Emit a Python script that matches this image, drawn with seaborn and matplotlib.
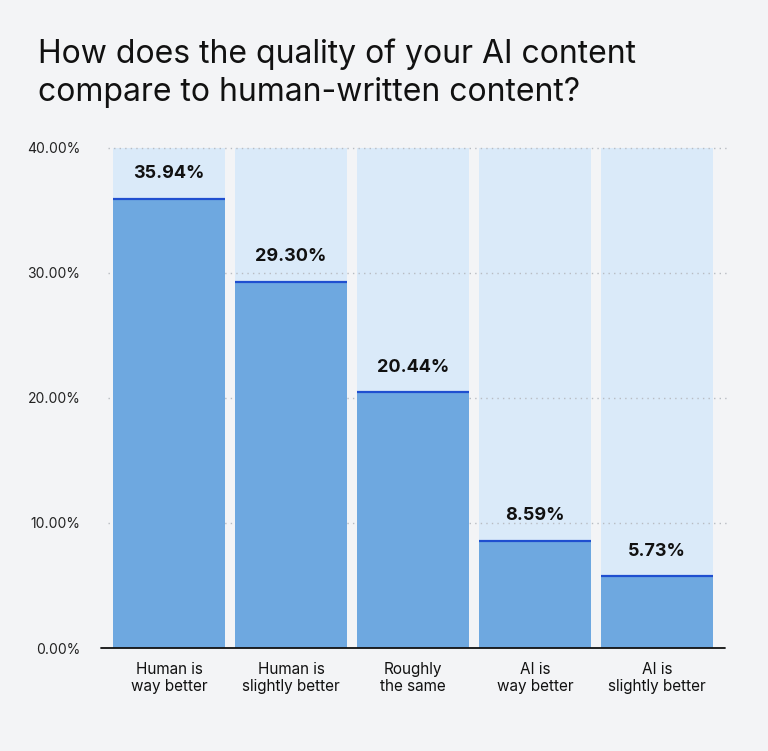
import matplotlib.pyplot as plt
import seaborn as sns
import pandas as pd

categories = ["Human is\nway better", "Human is\nslightly better", "Roughly\nthe same",
              "AI is\nway better", "AI is\nslightly better"]
values = [35.94, 29.30, 20.44, 8.59, 5.73]
ticks = [0, 10, 20, 30, 40]

df = pd.DataFrame({"answer": categories, "share": values})

sns.set_style("white")
plt.rcParams['font.family'] = ['Inter', 'DejaVu Sans']
bg = "#f3f4f6"
fig = plt.figure(figsize=(7.68, 7.51), dpi=100, facecolor=bg)
# x: -0.5..4.5 over 108..718 px; y: 0..40 over 648..148 px
ax = fig.add_axes([108 / 768, 103 / 751, 610 / 768, 500 / 751], facecolor=bg)

for t in ticks[1:]:
    ax.axhline(t, xmin=0, xmax=1.015, color="#b8bcc2", lw=1, ls=(0, (1, 3)),
               zorder=3, clip_on=False)

# light full-height columns
sns.barplot(df.assign(full=40), x="answer", y="full", color="#daeaf9", width=0.92,
            saturation=1, linewidth=0, ax=ax, zorder=1)
sns.barplot(df, x="answer", y="share", color="#6ea8e0", width=0.92,
            saturation=1, linewidth=0, ax=ax, zorder=4)

for i, v in enumerate(values):
    ax.hlines(v, i - 0.46, i + 0.46, color="#1f4fd0", lw=1.6, zorder=5)
    ax.text(i, v + 1.3, f"{v:.2f}%", ha="center", va="bottom",
            fontsize=13, fontweight="bold", color="#111111", zorder=6)

ax.set_xlim(-0.5, 4.5)
ax.set_ylim(0, 40)
ax.set_yticks(ticks)
ax.set_yticklabels([f"{t:.2f}%" for t in ticks], fontsize=10, color="#222222")
ax.tick_params(axis="x", labelsize=11, colors="#111111", length=0, pad=10)
ax.tick_params(axis="y", length=0, pad=20)
ax.set_xlabel("")
ax.set_ylabel("")
sns.despine(ax=ax, left=True, top=True, right=True)
ax.spines["bottom"].set_visible(False)
ax.plot([-0.56, 4.56], [0, 0], color="#111111", lw=1.3, clip_on=False, zorder=7)

fig.text(38 / 768, 1 - 38 / 751, "How does the quality of your AI content\ncompare to human-written content?",
         fontsize=23, color="#111111", va="top", ha="left", linespacing=1.3)

fig.savefig("out.png", dpi=100, facecolor=bg)
